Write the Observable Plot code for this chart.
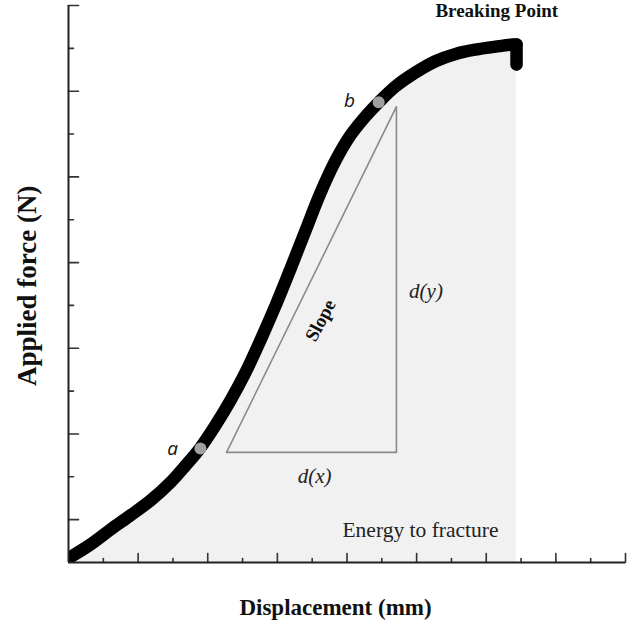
<!DOCTYPE html>
<html>
<head>
<meta charset="utf-8">
<script src="https://cdn.jsdelivr.net/npm/d3@7"></script>
<script src="https://cdn.jsdelivr.net/npm/@observablehq/plot@0.6"></script>
<style>
  html, body { margin: 0; padding: 0; background: #fff; }
  #chart svg { display: block; }
</style>
</head>
<body>
<div id="chart"></div>
<script>
// Load–displacement curve (arbitrary units: x in tick steps, y in tick steps)
const displacement = [0, 0.63, 1.21, 1.78, 2.36, 2.93, 3.36, 3.79, 4.22, 4.65, 5.08, 5.51, 5.95, 6.38, 6.81, 7.24, 7.67, 8.10, 8.53, 8.91, 9.39, 9.97, 10.54, 11.12, 11.69, 12.27, 12.75, 12.87];
const force        = [0.10, 0.42, 0.77, 1.10, 1.45, 1.87, 2.26, 2.68, 3.20, 3.78, 4.43, 5.18, 6.00, 6.86, 7.75, 8.63, 9.38, 9.97, 10.41, 10.74, 11.11, 11.44, 11.70, 11.87, 11.97, 12.04, 12.09, 12.09];
// drop at the breaking point
const breakDisplacement = [12.87, 12.87];
const breakForce        = [12.09, 11.62];
// slope triangle (a-b secant construction)
const triangleX = [4.54, 9.42, 9.42, 4.54];
const triangleY = [2.57, 2.57, 10.64, 2.57];
// marked points a and b
const pointNames = ["a", "b"];
const pointX = [3.79, 8.91];
const pointY = [2.66, 10.74];
// axis ticks
const xMajorTicks = [2, 4, 6, 8, 10, 12, 14, 16];
const xMinorTicks = [1, 3, 5, 7, 9, 11, 13, 15];
const yMajorTicks = [1, 3, 5, 7, 9, 11, 13];
const yMinorTicks = [2, 4, 6, 8, 10, 12];

const curve = displacement.map((x, i) => ({x, y: force[i]}));
const drop = breakDisplacement.map((x, i) => ({x, y: breakForce[i]}));
const triangle = triangleX.map((x, i) => ({x, y: triangleY[i]}));
const points = pointNames.map((name, i) => ({name, x: pointX[i], y: pointY[i]}));

// annotation texts
const annotations = {
  breaking: {text: "Breaking Point", x: 10.54, y: 12.87},
  energy: {text: "Energy to fracture", x: 7.87, y: 0.75},
  dx: {text: "d(x)", x: 7.07, y: 2.01},
  dy: {text: "d(y)", x: 10.27, y: 6.32},
  slope: {text: "Slope", x: 7.24, y: 5.65},
  xlabel: {text: "Displacement (mm)", x: 7.67, y: -1.05},
  ylabel: {text: "Applied force (N)", x: -1.18, y: 6.46}
};
const pointLabels = [
  {text: "a", x: 2.99, y: 2.66},
  {text: "b", x: 8.07, y: 10.78}
];

const tickShape = {draw(context, l) { context.moveTo(0, 0); context.lineTo(0, -l); }};
const serif = "'Liberation Serif', 'Times New Roman', serif";
const one = (a) => [a];

const chart = Plot.plot({
  width: 630,
  height: 625,
  marginLeft: 68,
  marginRight: 5,
  marginTop: 5,
  marginBottom: 63,
  x: {domain: [0, 16], axis: null},
  y: {domain: [0, 13], axis: null},
  style: {background: "#fff", overflow: "visible"},
  marks: [
    Plot.areaY(curve, {x: "x", y: "y", fill: "#f1f1f1", curve: "catmull-rom"}),
    // ticks
    Plot.vector(xMajorTicks, {x: d => d, y: 0, length: 9, rotate: 0, anchor: "start", shape: tickShape, stroke: "#333", strokeWidth: 1.6}),
    Plot.vector(xMinorTicks, {x: d => d, y: 0, length: 4, rotate: 0, anchor: "start", shape: tickShape, stroke: "#333", strokeWidth: 1.6}),
    Plot.vector(yMajorTicks, {x: 0, y: d => d, length: 10, rotate: 90, anchor: "start", shape: tickShape, stroke: "#333", strokeWidth: 1.6}),
    Plot.vector(yMinorTicks, {x: 0, y: d => d, length: 5, rotate: 90, anchor: "start", shape: tickShape, stroke: "#333", strokeWidth: 1.6}),
    // slope triangle
    Plot.line(triangle, {x: "x", y: "y", stroke: "#8a8a8a", strokeWidth: 1.6}),
    // curve
    Plot.line(curve, {x: "x", y: "y", stroke: "#000", strokeWidth: 12.5, curve: "catmull-rom", strokeLinecap: "round", strokeLinejoin: "round", clip: true}),
    Plot.line(drop, {x: "x", y: "y", stroke: "#000", strokeWidth: 12.5, strokeLinecap: "round"}),
    Plot.dot(points, {x: "x", y: "y", r: 6, fill: "#a0a0a0", stroke: null}),
    // axes
    Plot.ruleY([0], {stroke: "#222", strokeWidth: 2}),
    Plot.ruleX([0], {stroke: "#222", strokeWidth: 2}),
    // texts
    Plot.text(one(annotations.breaking), {x: "x", y: "y", text: "text", textAnchor: "start", fontFamily: serif, fontWeight: "bold", fontSize: 19, fill: "#111"}),
    Plot.text(one(annotations.energy), {x: "x", y: "y", text: "text", textAnchor: "start", fontFamily: serif, fontSize: 21.5, fill: "#222"}),
    Plot.text(one(annotations.dx), {x: "x", y: "y", text: "text", fontFamily: serif, fontStyle: "italic", fontSize: 21, fill: "#222"}),
    Plot.text(one(annotations.dy), {x: "x", y: "y", text: "text", fontFamily: serif, fontStyle: "italic", fontSize: 21, fill: "#222"}),
    Plot.text(one(annotations.slope), {x: "x", y: "y", text: "text", rotate: -62, fontFamily: serif, fontWeight: "bold", fontSize: 19, fill: "#111"}),
    Plot.text(one(annotations.xlabel), {x: "x", y: "y", text: "text", fontFamily: serif, fontWeight: "bold", fontSize: 23, fill: "#111"}),
    Plot.text(one(annotations.ylabel), {x: "x", y: "y", text: "text", rotate: -90, fontFamily: serif, fontWeight: "bold", fontSize: 27, fill: "#111"}),
    Plot.text(pointLabels, {x: "x", y: "y", text: "text", fontFamily: "'Open Sans', sans-serif", fontStyle: "italic", fontSize: 19, fill: "#111"})
  ]
});
document.getElementById("chart").appendChild(chart);
</script>
</body>
</html>
